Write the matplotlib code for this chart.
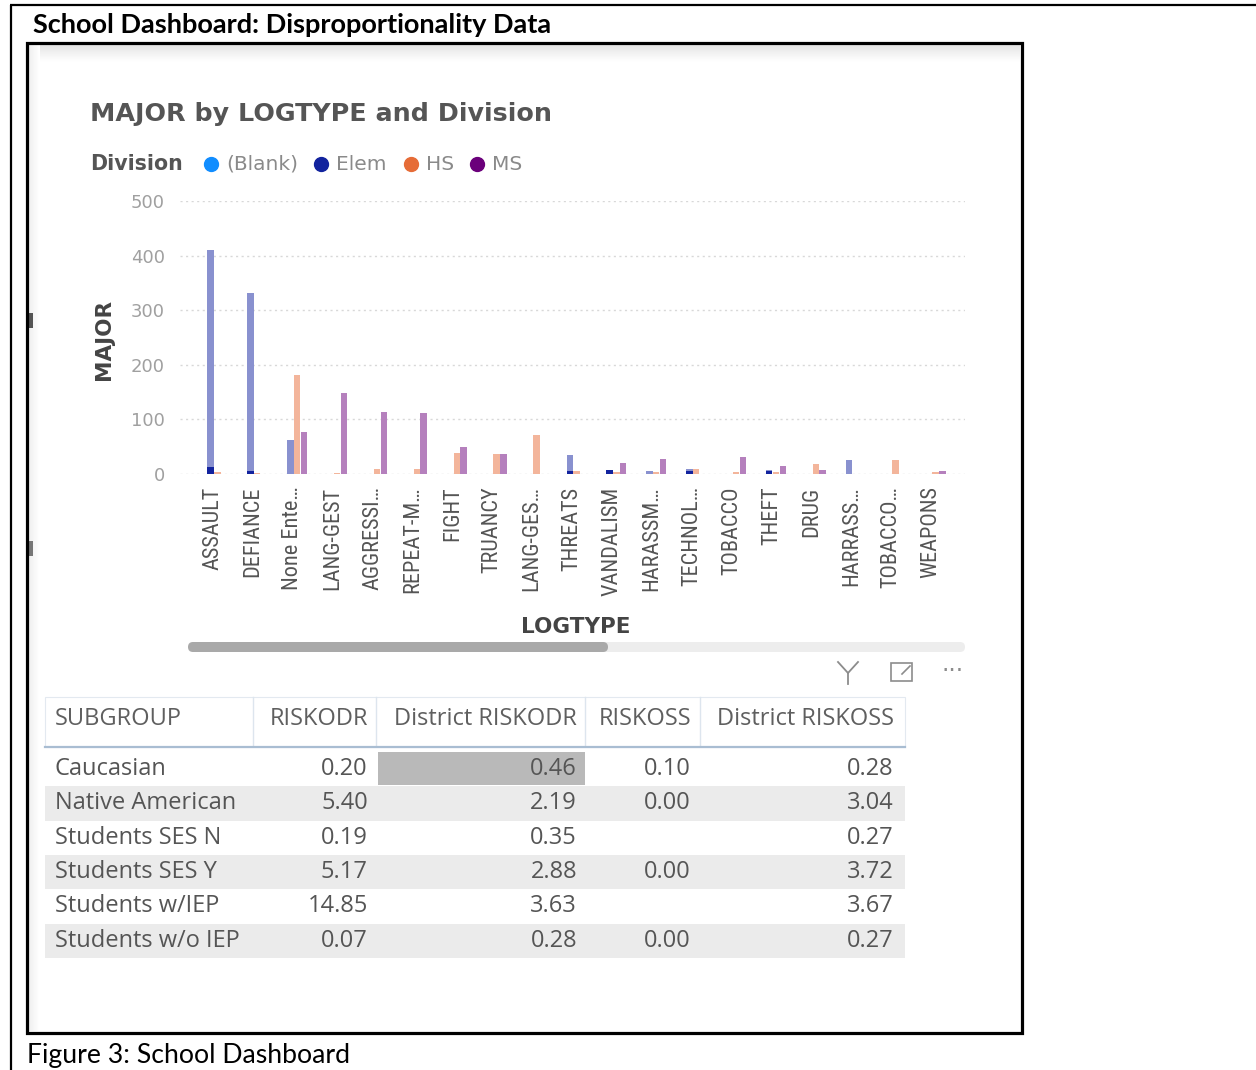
import numpy as np
import matplotlib.pyplot as plt
from matplotlib import font_manager
from matplotlib.patches import Rectangle, FancyBboxPatch

# --- chart data: MAJOR by LOGTYPE and Division ---
logtype = ["ASSAULT", "DEFIANCE", "None Ente…", "LANG-GEST", "AGGRESSI…",
           "REPEAT-M…", "FIGHT", "TRUANCY", "LANG-GES…", "THREATS",
           "VANDALISM", "HARASSM…", "TECHNOL…", "TOBACCO", "THEFT",
           "DRUG", "HARRASS…", "TOBACCO…", "WEAPONS"]
divisions = ["(Blank)", "Elem", "HS", "MS"]
blank = [0, 0, 0, 0, 0, 0, 0, 0, 0, 0, 0, 0, 0, 0, 0, 0, 0, 0, 0]
elem = [411, 332, 62, 0, 0, 0, 0, 0, 0, 35, 8, 5, 10, 0, 8, 0, 25, 0, 0]
hs = [4, 2, 182, 2, 10, 10, 38, 37, 72, 5, 4, 4, 10, 4, 4, 18, 0, 25, 4]
ms = [0, 0, 77, 148, 114, 112, 50, 36, 0, 0, 20, 28, 0, 32, 15, 8, 0, 0, 6]
# cross-highlighted part of the Elem bars
elem_sel = [12, 5, 0, 0, 0, 0, 0, 0, 0, 6, 8, 0, 6, 0, 6, 0, 0, 0, 0]
y_ticks = [0, 100, 200, 300, 400, 500]

# --- table data ---
subgroup = ["Caucasian", "Native American", "Students SES N",
            "Students SES Y", "Students w/IEP", "Students w/o IEP"]
riskodr = ["0.20", "5.40", "0.19", "5.17", "14.85", "0.07"]
dist_riskodr = ["0.46", "2.19", "0.35", "2.88", "3.63", "0.28"]
riskoss = ["0.10", "0.00", "", "0.00", "", "0.00"]
dist_riskoss = ["0.28", "3.04", "0.27", "3.72", "3.67", "0.27"]
headers = ["SUBGROUP", "RISKODR", "District RISKODR", "RISKOSS", "District RISKOSS"]

full_cols = ["#118DFF", "#12239E", "#E66C37", "#6B007B"]


def fade(c, a=0.5):
    r, g, b = [int(c[i:i + 2], 16) / 255 for i in (1, 3, 5)]
    return (a * r + 1 - a, a * g + 1 - a, a * b + 1 - a)


names = {f.name for f in font_manager.fontManager.ttflist}
narrow = "Roboto"
for cand in ["Roboto Condensed", "Liberation Sans Narrow"]:
    if cand in names:
        narrow = cand
        break

W, H = 1256, 1070
fig = plt.figure(figsize=(W / 100, H / 100), dpi=100)

# pixel-space layer for the page, frames, legend and table
bg = fig.add_axes([0, 0, 1, 1])
bg.set_xlim(0, W)
bg.set_ylim(H, 0)
bg.axis("off")

bg.plot([10, W], [5, 5], color="black", lw=1.6, solid_capstyle="butt")
bg.plot([11, 11], [5, H], color="black", lw=1.6, solid_capstyle="butt")
bg.add_patch(Rectangle((27, 43), 995, 990, fill=False, ec="black", lw=2.3, zorder=5))

# soft shading along the top and left edge of the dashboard
grad = np.linspace(0.9, 1.0, 20).reshape(-1, 1)
bg.imshow(grad, cmap="gray", vmin=0, vmax=1, extent=(29, 1020, 62, 45),
          aspect="auto", zorder=1)
gradx = np.linspace(0.94, 1.0, 10).reshape(1, -1)
bg.imshow(gradx, cmap="gray", vmin=0, vmax=1, extent=(29, 40, 1031, 45),
          aspect="auto", zorder=1)
bg.add_patch(Rectangle((28, 313), 5, 15, color="#555555", lw=0, zorder=2))
bg.add_patch(Rectangle((28, 541), 5, 15, color="#777777", lw=0, zorder=2))

bg.text(33, 25, "School Dashboard: Disproportionality Data", family="Lato",
        weight="bold", fontsize=19.5, va="center", ha="left")
bg.text(27, 1055, "Figure 3: School Dashboard", family="Lato",
        fontsize=19.2, va="center", ha="left")

# chart title and legend
bg.text(90, 114, "MAJOR by LOGTYPE and Division", family="DejaVu Sans",
        weight="bold", fontsize=18.3, color="#555555", va="center")
bg.text(90, 164, "Division", family="DejaVu Sans", weight="bold", fontsize=14.8,
        color="#555555", va="center")
leg_x = [211, 321, 411, 477]
for lx, name, col in zip(leg_x, divisions, full_cols):
    bg.scatter([lx], [164], s=100, color=col, zorder=3)
    bg.text(lx + 15, 164, name, family="DejaVu Sans", fontsize=14.5,
            color="#8a8a8a", va="center")

bg.text(104, 340, "MAJOR", family="DejaVu Sans", weight="bold", fontsize=15.5,
        color="#444444", rotation=90, va="center", ha="center")
bg.text(576, 627, "LOGTYPE", family="DejaVu Sans", weight="bold", fontsize=15.5,
        color="#444444", va="center", ha="center")

# horizontal scrollbar
bg.add_patch(FancyBboxPatch((190, 642), 775, 10, boxstyle="round,pad=0,rounding_size=5",
                            fc="#ededed", ec="none"))
bg.add_patch(FancyBboxPatch((188, 642), 420, 10, boxstyle="round,pad=0,rounding_size=5",
                            fc="#a9a9a9", ec="none"))

# visual header icons
ic = "#8c8c8c"
bg.plot([838, 848, 858], [662, 673, 662], color=ic, lw=1.3)
bg.plot([848, 848], [673, 684], color=ic, lw=1.3)
bg.add_patch(Rectangle((891, 663), 21, 18, fill=False, ec=ic, lw=1.2))
bg.plot([902, 910], [674, 666], color=ic, lw=1.2)
bg.text(953, 671, "···", fontsize=17, color=ic, ha="center", va="center")

# --- bar chart ---
x0, step = 213, 39.9
ax = fig.add_axes([180 / W, 1 - 474 / H, 785 / W, 273 / H])
ax.set_facecolor("none")
x = np.arange(len(logtype))
offsets = [-0.23, -0.06, 0.11, 0.28]
bw = 0.16
for off, vals, col in zip(offsets, [blank, elem, hs, ms], full_cols):
    ax.bar(x + off, vals, width=bw, color=fade(col), lw=0, zorder=2)
ax.bar(x + offsets[1], elem_sel, width=bw, color=full_cols[1], lw=0, zorder=3)

ax.set_xlim((180 - x0) / step, (965 - x0) / step)
ax.set_ylim(0, 500)
ax.set_yticks(y_ticks)
ax.set_yticklabels([str(v) for v in y_ticks], family="DejaVu Sans", fontsize=13,
                   color="#a0a0a0")
ax.set_xticks(x)
ax.set_xticklabels(logtype, rotation=90, family=narrow, fontsize=16,
                   color="#555555")
ax.tick_params(axis="y", length=0, pad=11)
ax.tick_params(axis="x", length=0, pad=9)
ax.yaxis.grid(True, color="#d8d8d8", linestyle=(0, (1.5, 2.5)), lw=1)
ax.set_axisbelow(True)
for s in ax.spines.values():
    s.set_visible(False)

# --- table ---
left, right = 45, 905
row_top = 752
row_h = 34.3
col_right = [None, 368, 577, 691, 894]
head_pos = [55, 368, 577, 691, 894]
sep_x = [253, 376, 585, 700]
tfs = 17

bg.add_patch(Rectangle((left, 697), right - left, 50, fc="white",
                       ec="#e3e9f0", lw=0.8, zorder=2))
for sx in sep_x:
    bg.plot([sx, sx], [697, 746], color="#dde5ee", lw=1, zorder=3)
for i, h in enumerate(headers):
    bg.text(head_pos[i], 719, h, family="Open Sans", fontsize=tfs,
            color="#5f5f5f", va="center", ha="left" if i == 0 else "right",
            zorder=4)
bg.plot([left, right], [747, 747], color="#a9bdd2", lw=1.6, zorder=4)

for r in range(len(subgroup)):
    top = row_top + r * row_h
    if r % 2 == 1:
        bg.add_patch(Rectangle((left, top), right - left, row_h, fc="#ebebeb",
                               ec="none", zorder=2))
    if r == 0:
        bg.add_patch(Rectangle((378, top), 207, row_h - 1, fc="#b9b9b9",
                               ec="none", zorder=3))
    cy = top + row_h / 2
    bg.text(55, cy, subgroup[r], family="Open Sans", fontsize=tfs,
            color="#555555", va="center", ha="left", zorder=4)
    for c, vals in zip(col_right[1:], [riskodr, dist_riskodr, riskoss, dist_riskoss]):
        bg.text(c, cy, vals[r], family="Open Sans", fontsize=tfs,
                color="#555555", va="center", ha="right", zorder=4)

plt.savefig("out.png", dpi=100)
